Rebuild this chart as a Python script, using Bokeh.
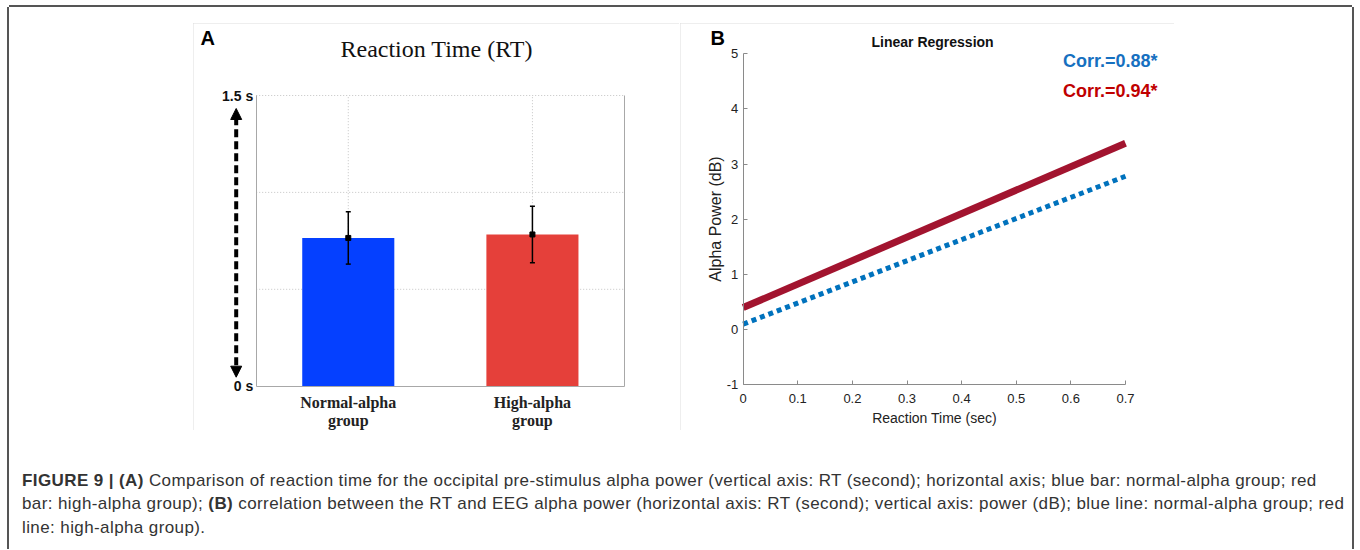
from bokeh.plotting import figure
from bokeh.models import (ColumnDataSource, Range1d, FixedTicker, Label, LinearAxis,
                          Arrow, NormalHead, Whisker, TeeHead, Spacer, Div)
from bokeh.layouts import row, column
from bokeh.embed import file_html
from bokeh.resources import INLINE

# ---------------- Panel A data ----------------
groups = ["Normal-alpha group", "High-alpha group"]
rt_mean = [0.765, 0.783]
rt_err = [0.135, 0.146]
bar_colors = ["#0540FF", "#E5403A"]
rt_ticks = [0, 1.5]
rt_tick_labels = ["0 s", "1.5 s"]
rt_grid = [0.5, 1.0, 1.5]
panel_a_title = "Reaction Time (RT)"

# ---------------- Panel B data ----------------
reg_x = [0.0, 0.7]
normal_fit = [0.10, 2.78]
high_fit = [0.40, 3.38]
corr_values = [0.88, 0.94]
corr_colors = ["#1670C0", "#C00000"]
x_ticks = [0, 0.1, 0.2, 0.3, 0.4, 0.5, 0.6, 0.7]
x_tick_labels = ["0", "0.1", "0.2", "0.3", "0.4", "0.5", "0.6", "0.7"]
y_ticks = [-1, 0, 1, 2, 3, 4, 5]
y_tick_labels = ["-1", "0", "1", "2", "3", "4", "5"]

SANS = "Liberation Sans"
SERIF = "Liberation Serif"
GRAY = "#a8a8a8"
PANEL_BOX = {"outline": "1px solid #dcdcdc", "outline-offset": "-1px"}

# ================= Panel A =================
A_W, A_H = 486, 407
AL, AR, AT, AB = 62.7, 431.0, 72.0, 362.7          # plot-area pixels inside the canvas
cat_x = [i + 1 for i in range(len(groups))]
xa0, xa1 = cat_x[0] - 0.5, cat_x[-1] + 0.5
ya0, ya1 = rt_ticks[0], rt_ticks[-1]
axppu = (AR - AL) / (xa1 - xa0)
ayppu = (AB - AT) / (ya1 - ya0)

pa = figure(x_range=Range1d(xa0 - AL / axppu, xa1 + (A_W - AR) / axppu),
            y_range=Range1d(ya0 - (A_H - AB) / ayppu, ya1 + AT / ayppu),
            width=A_W, height=A_H, min_border=0,
            output_backend="svg", toolbar_location=None, styles=PANEL_BOX)
pa.outline_line_color = None
pa.xgrid.visible = False
pa.ygrid.visible = False

line1 = [g.split(" ")[0] for g in groups]
line2 = [g.split(" ")[1] for g in groups]

xa = pa.xaxis[0]
xa2 = LinearAxis()
pa.add_layout(xa2, "below")
for ax, labels, so, lc in ((xa, line1, 8, GRAY), (xa2, line2, 26, None)):
    ax.fixed_location = ya0
    ax.bounds = (xa0, xa1)
    ax.ticker = FixedTicker(ticks=cat_x)
    ax.major_label_overrides = dict(zip(cat_x, labels))
    ax.axis_line_color = lc
    ax.major_tick_in = 0
    ax.major_tick_out = 0
    ax.major_tick_line_color = None
    ax.minor_tick_line_color = None
    ax.major_label_text_font = SERIF
    ax.major_label_text_font_style = "bold"
    ax.major_label_text_font_size = "16px"
    ax.major_label_text_color = "#222222"
    ax.major_label_standoff = so

ya = pa.yaxis[0]
yr_axis = LinearAxis()
pa.add_layout(yr_axis, "right")
for ax, loc in ((ya, xa0), (yr_axis, xa1)):
    ax.fixed_location = loc
    ax.bounds = (ya0, ya1)
    ax.axis_line_color = GRAY
    ax.major_tick_in = 0
    ax.major_tick_out = 0
    ax.major_tick_line_color = None
    ax.minor_tick_line_color = None
ya.ticker = FixedTicker(ticks=rt_ticks)
ya.major_label_overrides = dict(zip(rt_ticks, rt_tick_labels))
ya.major_label_text_font = SANS
ya.major_label_text_font_style = "bold"
ya.major_label_text_font_size = "14px"
ya.major_label_text_color = "#111111"
ya.major_label_standoff = 3
yr_axis.ticker = FixedTicker(ticks=[])
yr_axis.major_label_text_alpha = 0

# dotted grid limited to the plot area
pa.segment(x0=[xa0] * len(rt_grid), x1=[xa1] * len(rt_grid), y0=rt_grid, y1=rt_grid,
           line_color="#c4c4c4", line_dash="1 2", line_width=1, level="underlay")
pa.segment(x0=cat_x, x1=cat_x, y0=[ya0] * len(cat_x), y1=[ya1] * len(cat_x),
           line_color="#c4c4c4", line_dash="1 2", line_width=1, level="underlay")

src_a = ColumnDataSource(dict(
    x=cat_x, mean=rt_mean,
    upper=[m + e for m, e in zip(rt_mean, rt_err)],
    lower=[m - e for m, e in zip(rt_mean, rt_err)],
    color=bar_colors))
pa.vbar(x="x", top="mean", width=0.5, fill_color="color", line_color=None, source=src_a)
pa.add_layout(Whisker(base="x", upper="upper", lower="lower", source=src_a,
                      line_color="black", line_width=1.5, level="overlay",
                      upper_head=TeeHead(size=5, line_width=1.5, line_color="black"),
                      lower_head=TeeHead(size=5, line_width=1.5, line_color="black")))
pa.scatter(x="x", y="mean", marker="square", size=5, color="black", source=src_a)

# double-headed dashed arrow beside the time axis
arrow_x = xa0 - 20 / axppu
pa.add_layout(Arrow(start=NormalHead(size=11, fill_color="black", line_color="black"),
                    end=NormalHead(size=11, fill_color="black", line_color="black"),
                    x_start=arrow_x, y_start=ya0 + 9 / ayppu,
                    x_end=arrow_x, y_end=ya1 - 13 / ayppu,
                    line_width=4, line_dash="8 4", line_color="black"))

pa.add_layout(Label(x=xa0, y=ya1 + 58 / ayppu, x_offset=-55.7, text="A", text_font=SANS,
                    text_font_style="bold", text_font_size="20px",
                    text_align="left", text_baseline="middle", text_color="black"))
pa.add_layout(Label(x=(xa0 + xa1) / 2, y=ya1 + 47 / ayppu, x_offset=-3.7, text=panel_a_title,
                    text_font=SERIF, text_font_size="24px", text_align="center",
                    text_baseline="middle", text_color="#111111"))

# ================= Panel B =================
B_W, B_H = 494, 407
FL, FR, FT, FB = 62.7, 445.0, 30.3, 361.3       # plot-area pixels inside the canvas
xppu = (FR - FL) / (x_ticks[-1] - x_ticks[0])
yppu = (FB - FT) / (y_ticks[-1] - y_ticks[0])
pb = figure(x_range=Range1d(x_ticks[0] - FL / xppu, x_ticks[-1] + (B_W - FR) / xppu),
            y_range=Range1d(y_ticks[0] - (B_H - FB) / yppu, y_ticks[-1] + FT / yppu),
            width=B_W, height=B_H, min_border=0,
            output_backend="svg", toolbar_location=None, styles=PANEL_BOX)
pb.outline_line_color = None
pb.xgrid.grid_line_color = None
pb.ygrid.grid_line_color = None

for ax in (pb.xaxis[0], pb.yaxis[0]):
    ax.axis_line_color = "#8a8a8a"
    ax.axis_line_width = 1
    ax.major_tick_line_color = "#8a8a8a"
    ax.major_tick_in = 4
    ax.major_tick_out = 0
    ax.minor_tick_line_color = None
    ax.major_label_text_font = SANS
    ax.major_label_text_font_size = "13px"
    ax.major_label_text_color = "#222222"
    ax.axis_label_text_font = SANS
    ax.axis_label_text_font_style = "normal"
    ax.axis_label_text_color = "#222222"

pb.xaxis.fixed_location = y_ticks[0]
pb.xaxis.bounds = (x_ticks[0], x_ticks[-1])
pb.xaxis.ticker = FixedTicker(ticks=x_ticks)
pb.xaxis.major_label_overrides = dict(zip(x_ticks, x_tick_labels))
pb.xaxis.major_label_standoff = 9
pb.xaxis.axis_label = "Reaction Time (sec)"
pb.xaxis.axis_label_text_font_size = "14px"
pb.xaxis.axis_label_standoff = 4

pb.yaxis.fixed_location = x_ticks[0]
pb.yaxis.bounds = (y_ticks[0], y_ticks[-1])
pb.yaxis.ticker = FixedTicker(ticks=y_ticks)
pb.yaxis.major_label_overrides = dict(zip(y_ticks, y_tick_labels))
pb.yaxis.major_label_standoff = 5
pb.yaxis.axis_label = "Alpha Power (dB)"
pb.yaxis.axis_label_text_font_size = "16px"
pb.yaxis.axis_label_standoff = 0

pb.line(reg_x, high_fit, line_color="#A2142F", line_width=7, line_cap="butt")
pb.line(reg_x, normal_fit, line_color="#0072BD", line_width=5, line_dash="5 4", line_cap="butt")

pb.add_layout(Label(x=x_ticks[0], y=y_ticks[-1] + 16.3 / yppu, x_offset=-32.7, text="B",
                    text_font=SANS, text_font_style="bold", text_font_size="20px",
                    text_align="left", text_baseline="middle", text_color="black"))
pb.add_layout(Label(x=(x_ticks[0] + x_ticks[-1]) / 2, y=y_ticks[-1] + 11.6 / yppu, x_offset=-1.8,
                    text="Linear Regression", text_font=SANS, text_font_style="bold",
                    text_font_size="14px", text_align="center", text_baseline="middle",
                    text_color="#111111"))
for i, (c, col) in enumerate(zip(corr_values, corr_colors)):
    pb.add_layout(Label(x=x_ticks[-1], y=y_ticks[-1] - (6.7 + 30.7 * i) / yppu, x_offset=32,
                        text="Corr.=%.2f*" % c, text_font=SANS, text_font_style="bold",
                        text_font_size="18px", text_align="right", text_baseline="middle",
                        text_color=col))

# ================= Caption =================
caption_html = (
    '<div style="padding:38.5px 0 0 13px; font-family:\'Liberation Sans\', Arial, sans-serif; '
    'font-size:17px; letter-spacing:0.4px; line-height:23.5px; color:#333333; white-space:nowrap;">'
    '<b>FIGURE 9 | (A)</b> Comparison of reaction time for the occipital pre-stimulus alpha power '
    '(vertical axis: RT (second); horizontal axis; blue bar: normal-alpha group; red<br>'
    'bar: high-alpha group); <b>(B)</b> correlation between the RT and EEG alpha power '
    '(horizontal axis: RT (second); vertical axis: power (dB); blue line: normal-alpha group; red<br>'
    'line: high-alpha group).</div>'
)
cap = Div(text=caption_html, width=1343, height=119, margin=(0, 0, 0, 0))

top = row(Spacer(width=184, height=407), pa, Spacer(width=1, height=407), pb)
inner = column(Spacer(width=1343, height=16), top, cap, width=1343, height=542,
               styles={"box-shadow": "-2px 0 0 #555555, 2px 0 0 #555555, 0 -2px 0 #555555"})
layout = column(Spacer(width=1360, height=7), row(Spacer(width=9, height=542), inner))

open("out.html", "w").write(file_html(layout, INLINE))
